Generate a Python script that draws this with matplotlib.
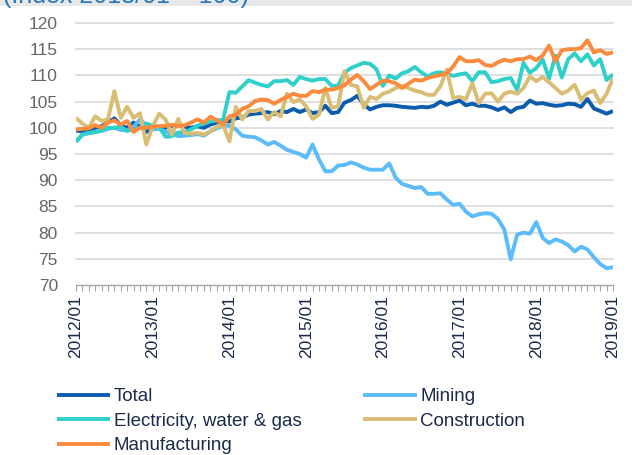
import matplotlib
matplotlib.use("Agg")
import matplotlib.pyplot as plt
from matplotlib.patches import Rectangle

plt.rcParams['font.family'] = ['Liberation Sans', 'DejaVu Sans']

# monthly index values, 2012/01 .. 2019/01
total = [99.5, 99.3, 99.6, 100.0, 100.3, 101.0, 101.8, 100.5, 100.0, 101.0, 100.3, 99.2,
         100.0, 100.2, 100.0, 100.4, 100.5, 100.2, 100.0, 100.3, 100.0, 100.6, 101.0, 101.3,
         101.2, 101.8, 102.0, 102.5, 102.7, 102.8, 103.0, 102.6, 103.2, 103.0, 103.6, 103.0,
         103.5, 102.8, 103.0, 104.2, 102.8, 103.0, 104.8, 105.3, 106.1, 104.5, 103.5, 104.0,
         104.3, 104.3, 104.2, 104.0, 103.9, 103.8, 104.0, 103.9, 104.2, 105.0, 104.4, 104.8,
         105.2, 104.3, 104.6, 104.2, 104.2, 103.9, 103.4, 103.9, 103.0, 103.8, 104.0, 105.2,
         104.6, 104.7, 104.4, 104.2, 104.3, 104.6, 104.5, 104.0, 105.5, 103.7, 103.2, 102.7,
         103.2]
mining = [97.3, 98.7, 99.0, 99.2, 99.4, 99.8, 100.0, 99.6, 99.5, 100.2, 101.6, 100.5,
          99.7, 99.8, 99.3, 98.8, 98.4, 98.5, 98.6, 98.8, 98.5, 99.3, 99.9, 100.4,
          100.4, 99.7, 98.5, 98.3, 98.2, 97.6, 96.8, 97.3, 96.6, 95.8, 95.4, 95.0,
          94.3, 96.8, 94.0, 91.7, 91.7, 92.8, 92.9, 93.4, 93.0, 92.4, 92.0, 92.0,
          92.0, 93.2, 90.5, 89.3, 88.9, 88.5, 88.7, 87.4, 87.4, 87.5, 86.3, 85.3,
          85.5, 84.0, 83.1, 83.5, 83.7, 83.6, 82.6, 80.6, 74.9, 79.6, 80.0, 79.8,
          82.0, 79.0, 78.0, 78.7, 78.3, 77.6, 76.4, 77.3, 76.8, 75.3, 74.0, 73.2,
          73.4]
electricity = [97.4, 98.7, 99.0, 99.2, 99.5, 100.0, 100.0, 100.2, 99.4, 99.7, 100.0, 100.8,
               100.4, 100.2, 98.3, 98.4, 99.1, 99.2, 99.7, 100.4, 100.8, 101.2, 101.4, 101.5,
               106.8, 106.7, 107.9, 109.1, 108.6, 108.2, 107.9, 108.9, 108.9, 109.1, 108.2, 109.7,
               109.3, 109.0, 109.3, 109.3, 108.0, 108.0, 110.5, 111.4, 111.9, 112.4, 112.2, 111.2,
               108.0, 110.0, 109.4, 110.4, 110.8, 111.6, 110.6, 109.8, 110.4, 110.6, 110.4, 109.9,
               110.2, 110.4, 108.9, 110.6, 110.6, 108.7, 108.9, 109.3, 109.5, 107.2, 112.4, 110.5,
               111.4, 113.0, 109.4, 113.8, 109.6, 113.1, 114.2, 112.7, 114.0, 111.9, 113.1, 109.1,
               110.2]
construction = [101.9, 100.8, 100.0, 102.2, 101.3, 101.6, 107.0, 101.9, 104.0, 101.9, 102.8, 96.8,
                100.3, 102.7, 101.6, 98.7, 101.7, 99.0, 98.9, 99.0, 98.7, 99.3, 100.2, 100.6,
                97.4, 104.0, 101.6, 103.2, 103.2, 103.6, 101.6, 103.0, 102.2, 106.5, 104.9, 105.4,
                104.1, 101.7, 102.5, 107.6, 103.8, 104.1, 110.8, 108.2, 107.9, 103.8, 105.9, 105.5,
                106.5, 106.9, 107.6, 108.0, 107.6, 107.1, 106.8, 106.3, 106.3, 107.9, 111.1, 105.7,
                105.9, 105.5, 108.5, 104.7, 106.5, 106.6, 105.0, 106.5, 106.9, 106.5, 107.6, 109.8,
                108.9, 109.7, 108.7, 107.6, 106.5, 107.1, 108.2, 105.4, 106.6, 107.1, 104.7, 106.5,
                109.5]
manufacturing = [99.7, 99.8, 99.9, 100.5, 100.0, 101.0, 101.4, 100.6, 101.3, 99.2, 100.0, 100.0,
                 100.2, 100.3, 100.4, 100.6, 100.3, 100.5, 101.0, 101.6, 101.0, 102.1, 101.5, 100.6,
                 102.2, 102.5, 103.6, 104.1, 105.1, 105.4, 105.3, 104.6, 105.3, 105.9, 106.5, 106.1,
                 106.1, 107.0, 106.8, 107.3, 107.3, 107.6, 108.1, 109.2, 110.1, 108.9, 107.4, 108.2,
                 109.0, 108.9, 108.5, 107.6, 108.4, 109.2, 109.0, 109.5, 109.8, 110.1, 110.4, 111.7,
                 113.5, 112.7, 112.7, 112.9, 112.0, 111.8, 112.5, 113.0, 112.7, 113.1, 113.1, 113.6,
                 112.9, 113.8, 115.7, 112.7, 114.8, 115.0, 115.0, 115.2, 116.7, 114.4, 114.8, 114.1,
                 114.4]

year_labels = ['2012/01', '2013/01', '2014/01', '2015/01', '2016/01', '2017/01', '2018/01', '2019/01']
y_ticks = [70, 75, 80, 85, 90, 95, 100, 105, 110, 115, 120]

series = [
    ('Total', total, '#0b5cad'),
    ('Mining', mining, '#5cbcfb'),
    ('Electricity, water & gas', electricity, '#2fcfcb'),
    ('Construction', construction, '#d9bd74'),
    ('Manufacturing', manufacturing, '#fb8a3c'),
]

W, H = 632, 455
fig = plt.figure(figsize=(W / 100, H / 100), dpi=100)
ax = fig.add_axes([76 / W, 1 - 285 / H, (613 - 76) / W, (285 - 23) / H])

months = list(range(len(total)))
lines = {}
for name, vals, col in series:
    ln, = ax.plot(months, vals, color=col, lw=2.8, solid_joinstyle='round',
                  solid_capstyle='butt', label=name)
    lines[name] = ln

ax.set_xlim(0, len(total) - 1)
ax.set_ylim(70, 120)
ax.set_yticks(y_ticks)
ax.set_xticks(range(0, len(total), 12))
ax.set_xticklabels(year_labels, rotation=90, fontsize=12.5, color='#1c2a48')
ax.set_xticks(months, minor=True)
ax.tick_params(axis='x', which='both', direction='out', length=4, width=0.8,
               color='#a6a6a6', pad=3)
ax.tick_params(axis='y', length=0, labelsize=12.5, labelcolor='#666666', pad=13)

for y in y_ticks[1:]:
    ax.axhline(y, color='#d9d9d9', lw=1.2, zorder=0, clip_on=False)
for s in ['top', 'right', 'left']:
    ax.spines[s].set_visible(False)
ax.spines['bottom'].set_color('#a6a6a6')
ax.spines['bottom'].set_linewidth(1.0)

# clipped title band at the very top
fig.patches.append(Rectangle((0, 1 - 6 / H), 1, 6 / H, transform=fig.transFigure,
                             facecolor='#e8e8e8', edgecolor='none', zorder=0))
fig.text(3 / W, 1 - 2.5 / H, '(Index 2013/01 = 100)', fontsize=18, color='#2478bd',
         va='baseline', ha='left')

order = ['Total', 'Electricity, water & gas', 'Manufacturing', 'Mining', 'Construction']
fig.legend([lines[n] for n in order], order, loc='upper left',
           bbox_to_anchor=(57 / W, 1 - 388 / H), ncol=2, frameon=False,
           fontsize=13.5, handlelength=2.85, handletextpad=0.18, columnspacing=3.3,
           labelspacing=0.4, borderpad=0, borderaxespad=0, labelcolor='#1c2a48')

fig.savefig('out.png', dpi=100)
